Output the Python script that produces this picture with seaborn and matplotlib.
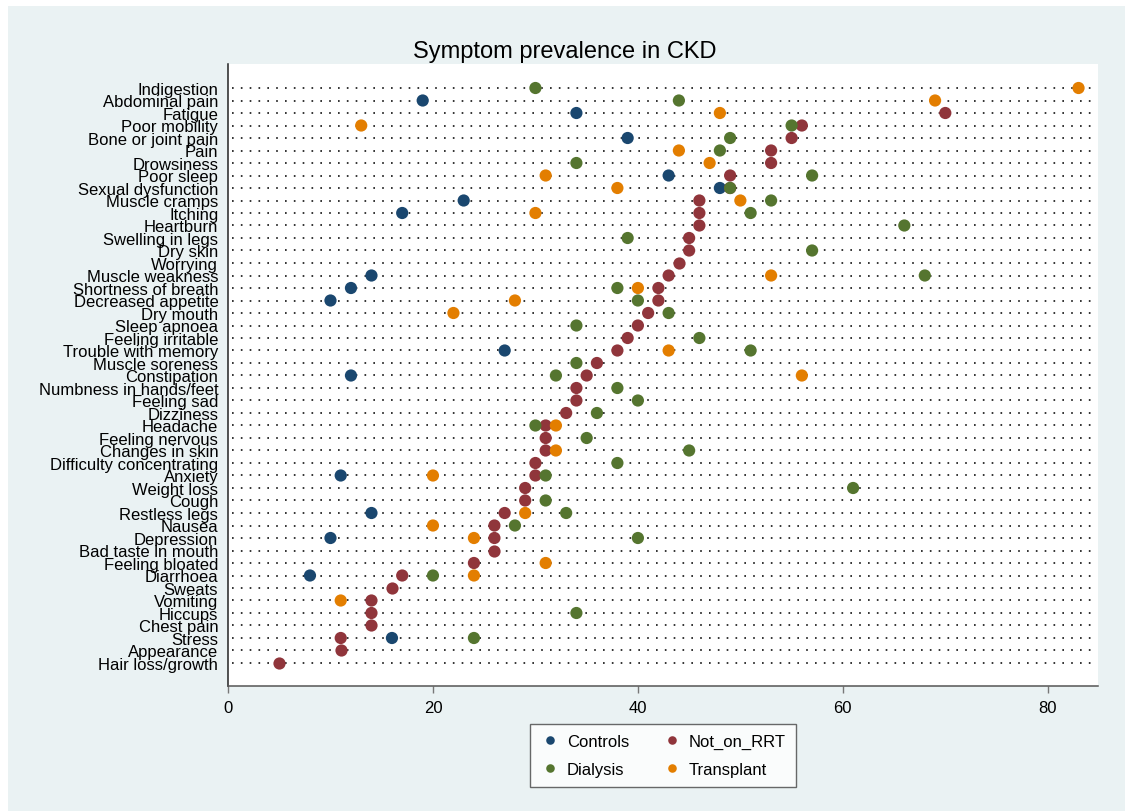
import numpy as np
import pandas as pd
import matplotlib
matplotlib.use("Agg")
import matplotlib.pyplot as plt
from matplotlib.patches import Rectangle
import seaborn as sns

nan = np.nan

symptoms = ["Indigestion", "Abdominal pain", "Fatigue", "Poor mobility", "Bone or joint pain",
            "Pain", "Drowsiness", "Poor sleep", "Sexual dysfunction", "Muscle cramps",
            "Itching", "Heartburn", "Swelling in legs", "Dry skin", "Worrying",
            "Muscle weakness", "Shortness of breath", "Decreased appetite", "Dry mouth",
            "Sleep apnoea", "Feeling irritable", "Trouble with memory", "Muscle soreness",
            "Constipation", "Numbness in hands/feet", "Feeling sad", "Dizziness", "Headache",
            "Feeling nervous", "Changes in skin", "Difficulty concentrating", "Anxiety",
            "Weight loss", "Cough", "Restless legs", "Nausea", "Depression",
            "Bad taste in mouth", "Feeling bloated", "Diarrhoea", "Sweats", "Vomiting",
            "Hiccups", "Chest pain", "Stress", "Appearance", "Hair loss/growth"]

controls = [nan, 19, 34, nan, 39, nan, nan, 43, 48, 23,
            17, nan, nan, nan, nan, 14, 12, 10, nan, nan,
            nan, 27, nan, 12, nan, nan, nan, nan, nan, nan,
            nan, 11, nan, nan, 14, nan, 10, nan, nan, 8,
            nan, nan, nan, nan, 16, nan, nan]

not_on_rrt = [nan, nan, 70, 56, 55, 53, 53, 49, 49, 46,
              46, 46, 45, 45, 44, 43, 42, 42, 41, 40,
              39, 38, 36, 35, 34, 34, 33, 31, 31, 31,
              30, 30, 29, 29, 27, 26, 26, 26, 24, 17,
              16, 14, 14, 14, 11, 11, 5]

dialysis = [30, 44, nan, 55, 49, 48, 34, 57, 49, 53,
            51, 66, 39, 57, nan, 68, 38, 40, 43, 34,
            46, 51, 34, 32, 38, 40, 36, 30, 35, 45,
            38, 31, 61, 31, 33, 28, 40, nan, nan, 20,
            nan, nan, 34, nan, 24, nan, nan]

transplant = [83, 69, 48, 13, nan, 44, 47, 31, 38, 50,
              30, nan, nan, nan, nan, 53, 40, 28, 22, nan,
              nan, 43, nan, 56, nan, nan, nan, 32, nan, 32,
              nan, 20, nan, nan, 29, 20, 24, nan, 31, 24,
              nan, 11, nan, nan, nan, nan, nan]

groups = ["Controls", "Not_on_RRT", "Dialysis", "Transplant"]
colors = ["#1a476f", "#90353b", "#55752f", "#e37e00"]

df = pd.DataFrame({"Symptom": symptoms, "Controls": controls, "Not_on_RRT": not_on_rrt,
                   "Dialysis": dialysis, "Transplant": transplant})
long = df.melt(id_vars="Symptom", var_name="Group", value_name="Percent").dropna()

W, H = 1129, 812
fig = plt.figure(figsize=(W / 100, H / 100), dpi=100, facecolor="white")
fig.patches.append(Rectangle((8 / W, 0), (1125 - 8) / W, (H - 7) / H,
                             transform=fig.transFigure, facecolor="#eaf2f3",
                             edgecolor="none", zorder=-5))
plt.rcParams["font.family"] = ["Liberation Sans", "DejaVu Sans"]

ax = fig.add_axes([228 / W, 1 - 687 / H, (1098 - 228) / W, (687 - 65) / H])
ax.set_facecolor("white")

# dotted guide line per symptom
ax.hlines(range(len(symptoms)), 0.4, 84.3, colors="#111111", linewidth=1.2,
          linestyles=(0, (1, 4.3)), zorder=1)

sns.stripplot(data=long, x="Percent", y="Symptom", hue="Group", order=symptoms,
              hue_order=groups, palette=colors, jitter=False, size=8.8,
              linewidth=0, orient="h", ax=ax, zorder=3)

ax.set_xlim(0, 84.9)
ax.set_ylim(len(symptoms) - 1 + 23 / 12.5, -24 / 12.5)
ax.set_xticks([0, 20, 40, 60, 80])
ax.set_xlabel("")
ax.set_ylabel("")
ax.tick_params(axis="y", length=0, labelsize=12, pad=7)
ax.tick_params(axis="x", length=5, width=1, color="#777777", labelsize=12, pad=5)
for s in ["top", "right"]:
    ax.spines[s].set_visible(False)
ax.spines["left"].set_color("#222222")
ax.spines["left"].set_linewidth(1.1)
ax.spines["bottom"].set_color("#555555")
ax.spines["bottom"].set_linewidth(1.1)

handles, labels = ax.get_legend_handles_labels()
lut = dict(zip(labels, handles))
ax.get_legend().remove()
order = ["Controls", "Dialysis", "Not_on_RRT", "Transplant"]
leg = ax.legend([lut[k] for k in order], order, ncol=2, loc="upper center",
                bbox_to_anchor=(0.5, -0.048), frameon=True, fancybox=False,
                edgecolor="#444444", fontsize=12, columnspacing=2.0,
                handletextpad=0.4, borderpad=0.6, labelspacing=0.75,
                handlelength=1.2, markerscale=0.7)
leg.get_frame().set_linewidth(1.0)

fig.text(0.5, 1 - 52 / H, "Symptom prevalence in CKD", ha="center", va="center",
         fontsize=17)

fig.savefig("out.png", dpi=100, facecolor=fig.get_facecolor())
